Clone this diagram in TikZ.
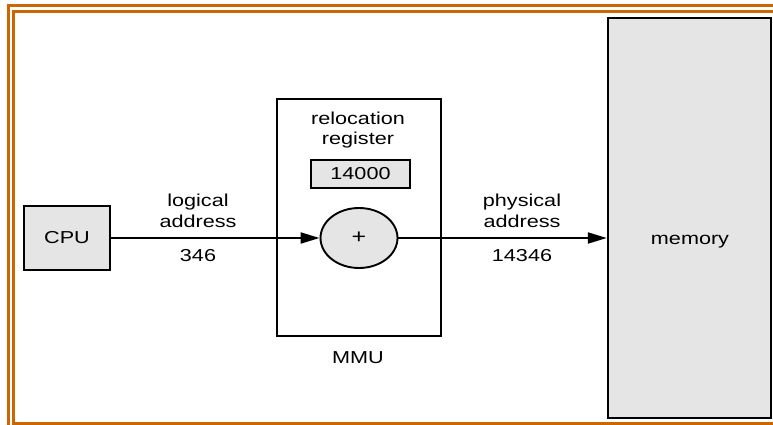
\documentclass[tikz,border=0pt]{standalone}
\usepackage{fontspec}
\setmainfont{Liberation Sans}[FakeStretch=1.25]
\usetikzlibrary{shapes.geometric,arrows.meta}
\definecolor{frameorange}{RGB}{204,102,0}
\definecolor{boxgray}{RGB}{229,229,229}
\begin{document}
\begin{tikzpicture}[x=1pt,y=-1pt,
  every node/.style={font=\fontsize{17.3}{20.5}\selectfont, inner sep=0pt},
  blk/.style={draw=black, line width=2.4pt, rectangle},
  grayblk/.style={blk, fill=boxgray},
  lbl/.style={align=center},
  arr/.style={line width=2.1pt, -{Triangle[length=19pt,width=11pt]}}
]
\useasboundingbox (0,0) rectangle (773,425);
% orange frame
\draw[frameorange, line width=3pt] (8,440) -- (8,6) -- (790,6);
\draw[frameorange, line width=3pt] (790,12) -- (13.5,12) -- (13.5,423) -- (790,423);
% boxes
\node[grayblk, minimum width=86pt, minimum height=64pt] (cpu) at (67,238) {\raisebox{-2pt}{CPU}};
\node[blk, minimum width=164pt, minimum height=237pt] (mmu) at (359,217.5) {};
\node[grayblk, minimum width=99pt, minimum height=28pt] (reg) at (360.5,174) {14000};
\node[draw=black, line width=1.9pt, fill=boxgray, ellipse, minimum width=77pt, minimum height=60pt] (plus) at (359,238) {\fontsize{20}{20}\selectfont\raisebox{1pt}{+}};
\node[grayblk, minimum width=163pt, minimum height=400pt] (mem) at (689.5,218) {};
\node (memlbl) at (690,242) {memory};
% labels
\node[lbl] (reglbl) at (358,130) {relocation\\register};
\node[lbl] (loglbl) at (198,211) {logical\\address};
\node (logval) at (198,256) {346};
\node[lbl] (phylbl) at (522,211) {physical\\address};
\node (phyval) at (522,256) {14346};
\node (mmulbl) at (358,358) {MMU};
% arrows
\draw[arr] (cpu.east) -- (plus.west);
\draw[arr] (plus.east) -- (plus.east -| mem.west);
\end{tikzpicture}
\end{document}
